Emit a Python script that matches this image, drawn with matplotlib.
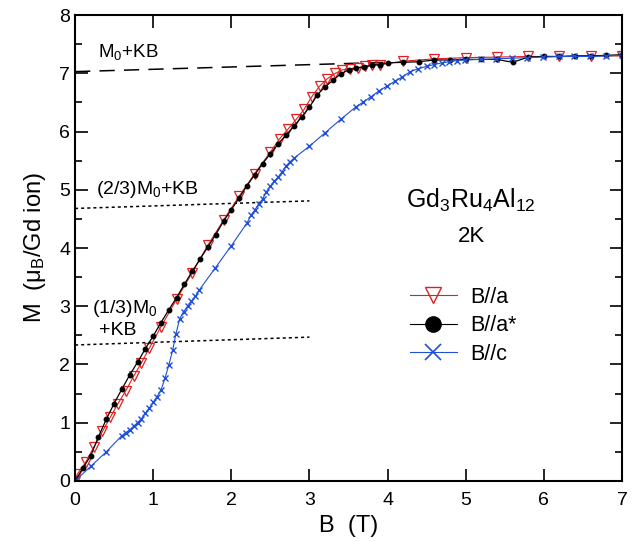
import matplotlib
matplotlib.use("Agg")
import matplotlib.pyplot as plt
from matplotlib.lines import Line2D
from matplotlib import font_manager

# B//a (open red triangles)
b_a = [0.0, 0.03, 0.14, 0.24, 0.35, 0.45, 0.55, 0.65, 0.75, 0.85, 0.95, 1.1, 1.3, 1.5,
       1.7, 1.9, 2.1, 2.3, 2.5, 2.62, 2.73, 2.83, 2.93, 3.03, 3.13, 3.23, 3.33, 3.42,
       3.52, 3.62, 3.71, 3.8, 3.9, 4.2, 4.6, 5.0, 5.4, 5.8, 6.2, 6.6, 7.0]
m_a = [0.0, 0.12, 0.33, 0.58, 0.85, 1.09, 1.33, 1.55, 1.80, 2.03, 2.28, 2.65, 3.12, 3.58,
       4.05, 4.48, 4.89, 5.28, 5.65, 5.88, 6.05, 6.21, 6.38, 6.60, 6.78, 6.91, 7.00, 7.06,
       7.08, 7.10, 7.13, 7.14, 7.15, 7.21, 7.25, 7.27, 7.28, 7.29, 7.29, 7.30, 7.30]

# B//a* (black dots)
b_as = [0.0, 0.1, 0.2, 0.3, 0.4, 0.5, 0.6, 0.7, 0.8, 0.9, 1.0, 1.1, 1.2, 1.3, 1.4, 1.5,
        1.6, 1.7, 1.8, 1.9, 2.0, 2.1, 2.2, 2.3, 2.4, 2.5, 2.6, 2.7, 2.8, 2.9, 3.0, 3.1,
        3.2, 3.3, 3.4, 3.5, 3.6, 3.7, 3.8, 3.9, 4.0, 4.2, 4.4, 4.6, 4.8, 5.0, 5.2, 5.4,
        5.6, 5.8, 6.0, 6.2, 6.4, 6.6, 6.8, 7.0]
m_as = [0.0, 0.22, 0.43, 0.76, 1.06, 1.33, 1.58, 1.82, 2.04, 2.27, 2.49, 2.72, 2.94, 3.15,
        3.38, 3.60, 3.81, 4.02, 4.23, 4.46, 4.66, 4.86, 5.07, 5.26, 5.45, 5.62, 5.79, 5.94,
        6.09, 6.25, 6.42, 6.63, 6.77, 6.88, 6.99, 7.06, 7.09, 7.11, 7.14, 7.15, 7.18, 7.19,
        7.20, 7.23, 7.23, 7.24, 7.24, 7.24, 7.19, 7.28, 7.29, 7.29, 7.30, 7.30, 7.31, 7.32]

# B//c (blue crosses)
b_c = [0.0, 0.2, 0.4, 0.6, 0.65, 0.7, 0.75, 0.8, 0.85, 0.9, 0.95, 1.0, 1.05, 1.1, 1.15,
       1.2, 1.25, 1.29, 1.34, 1.39, 1.44, 1.49, 1.54, 1.59, 1.79, 2.0, 2.2, 2.25, 2.3,
       2.35, 2.4, 2.45, 2.5, 2.55, 2.6, 2.65, 2.7, 2.75, 2.8, 3.0, 3.2, 3.4, 3.59, 3.69,
       3.79, 3.89, 3.99, 4.1, 4.19, 4.29, 4.39, 4.5, 4.59, 4.69, 4.79, 4.89, 4.99, 5.19,
       5.39, 5.59, 5.79, 5.99, 6.19, 6.39, 6.59, 6.79, 7.0]
m_c = [0.0, 0.25, 0.50, 0.78, 0.83, 0.88, 0.94, 1.00, 1.07, 1.16, 1.25, 1.35, 1.45, 1.56,
       1.76, 1.99, 2.25, 2.52, 2.79, 2.91, 3.00, 3.09, 3.17, 3.28, 3.65, 4.04, 4.43, 4.56,
       4.65, 4.76, 4.84, 4.97, 5.06, 5.15, 5.22, 5.31, 5.41, 5.48, 5.54, 5.75, 5.98, 6.21,
       6.42, 6.51, 6.60, 6.70, 6.78, 6.87, 6.94, 7.03, 7.08, 7.12, 7.15, 7.18, 7.20, 7.22,
       7.23, 7.24, 7.25, 7.26, 7.27, 7.28, 7.29, 7.29, 7.29, 7.30, 7.31]

# reference lines (M0+KB, 2/3, 1/3)
ref_full_x = [0.0, 4.0]
ref_full_y = [7.03, 7.19]
ref_23_x = [0.0, 3.0]
ref_23_y = [4.68, 4.81]
ref_13_x = [0.0, 3.0]
ref_13_y = [2.335, 2.47]

names = [f.name for f in font_manager.fontManager.ttflist]
main_font = "Liberation Sans Narrow" if "Liberation Sans Narrow" in names else "Liberation Sans"
plt.rcParams["font.family"] = [main_font, "DejaVu Sans"]
plt.rcParams["mathtext.fontset"] = "custom"
plt.rcParams["mathtext.rm"] = main_font
plt.rcParams["mathtext.it"] = main_font

red = "#e02020"
blue = "#1f4fd8"

fig = plt.figure(figsize=(6.36, 5.41), dpi=100)
ax = fig.add_axes([0.118, 0.111, 0.860, 0.861])

ax.plot(ref_full_x, ref_full_y, color="black", lw=1.1, dashes=(10, 6))
ax.plot(ref_23_x, ref_23_y, color="black", lw=1.1, dashes=(2, 2))
ax.plot(ref_13_x, ref_13_y, color="black", lw=1.1, dashes=(2, 2))

ax.plot(b_a, m_a, color=red, lw=0.8, marker="v", ms=7, mfc="none", mec=red, mew=0.9)
ax.plot(b_as, m_as, color="black", lw=0.9, marker="o", ms=3.2)
ax.plot(b_c, m_c, color=blue, lw=0.8, marker="x", ms=4.5, mew=1.0)

ax.set_xlim(0, 7)
ax.set_ylim(0, 8)
ax.set_xticks(range(0, 8))
ax.set_yticks(range(0, 9))
ax.set_yticks([i + 0.5 for i in range(8)], minor=True)
ax.tick_params(which="major", direction="in", length=9, width=1.2, top=True, right=True,
               labelsize=14)
ax.tick_params(which="minor", direction="in", length=5, width=1.2, right=True)
ax.tick_params(axis="x", pad=8)
for s in ax.spines.values():
    s.set_linewidth(1.5)

ax.set_xlabel("B  (T)", fontsize=17, labelpad=4)
ax.set_ylabel(r"M  (μ$_\mathrm{B}$/Gd ion)", fontsize=17, labelpad=8)

ax.text(0.29, 7.37, r"M$_0$+KB", fontsize=13.5, va="center")
ax.text(0.27, 5.0, r"(2/3)M$_0$+KB", fontsize=14, va="center")
ax.text(0.22, 2.97, r"(1/3)M$_0$", fontsize=14, va="center")
ax.text(0.31, 2.59, "+KB", fontsize=14, va="center")

ax.text(5.06, 4.82, r"Gd$_3$Ru$_4$Al$_{12}$", fontsize=18, ha="center", va="center")
ax.text(5.08, 4.19, "2K", fontsize=16, ha="center", va="center")

handles = [
    Line2D([], [], color=red, lw=0.8, marker="v", ms=12, mfc="none", mec=red, mew=1.0),
    Line2D([], [], color="black", lw=0.8, marker="o", ms=11),
    Line2D([], [], color=blue, lw=0.8, marker="x", ms=11, mew=1.2),
]
ax.legend(handles, ["B//a", "B//a*", "B//c"], loc="center left",
          bbox_to_anchor=(0.612, 0.333), frameon=False, fontsize=15.5,
          handlelength=2.2, labelspacing=0.35, handletextpad=0.6,
          borderpad=0, borderaxespad=0)

fig.savefig("out.png", dpi=100)
